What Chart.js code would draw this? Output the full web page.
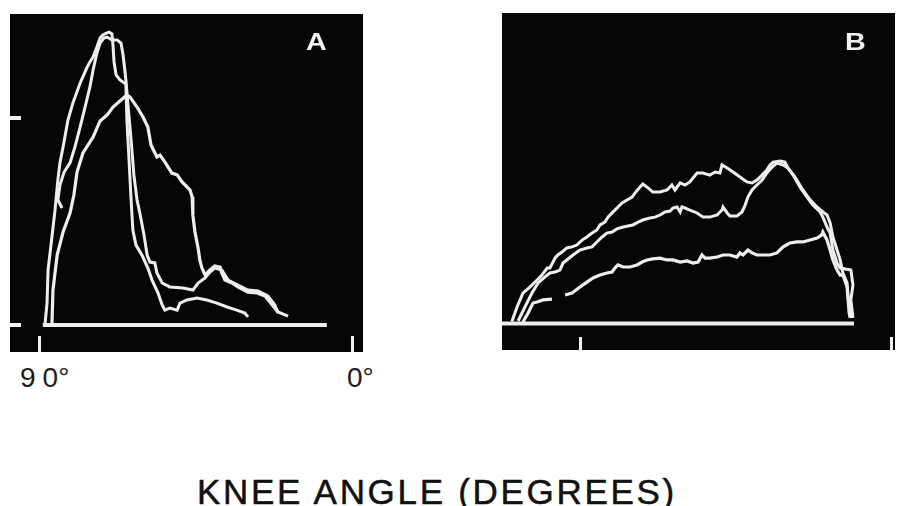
<!DOCTYPE html>
<html>
<head>
<meta charset="utf-8">
<script src="https://cdn.jsdelivr.net/npm/chart.js@4.4.0/dist/chart.umd.min.js"></script>
<style>
  body { margin: 0; width: 903px; height: 506px; background: #fff; position: relative; overflow: hidden;
         font-family: "Liberation Sans", Arial, sans-serif; }
  canvas { position: absolute; background: #060606; }
  #panelA { left: 10px; top: 14px; }
  #panelB { left: 502px; top: 13px; }
  .letter { position: absolute; color: #f2f2f2; font-weight: bold; font-size: 23px; line-height: 23px;
            transform: scaleX(1.25); transform-origin: left top; }
  .deg { position: absolute; color: #1c1c1c; font-size: 28px; line-height: 28px; }
  #title { position: absolute; left: 197px; top: 474px; font-size: 35px; line-height: 35px;
           color: #111; letter-spacing: 2.7px; white-space: nowrap; -webkit-text-stroke: 0.5px #111; }
</style>
</head>
<body>
<canvas id="panelA" width="353" height="338"></canvas>
<canvas id="panelB" width="393" height="337"></canvas>
<div class="letter" style="left:306px; top:31px;">A</div>
<div class="letter" style="left:845px; top:31px;">B</div>
<div class="deg" style="left:20px; top:364px;">9<span style="margin-left:7px">0°</span></div>
<div class="deg" style="left:347px; top:364px;">0°</div>
<div id="title">KNEE ANGLE (DEGREES)</div>
<script>
// knee angle in degrees (x), force in % of the upper tick mark (y)
const kneeTicksA = [90, 0];
const forceTicksA = [0, 100];
const kneeTicksB = [90, 0];

const baselineA = [[88.9, 0], [7.5, 0]];
const baselineB = [[112.9, 0], [11.0, 0]];

const traceA1 = [[88.3,0],[87.7,10.6],[87.4,26.6],[86.3,42.5],[85.4,55.6],[84.6,70.0],[84.0,78.3],[83.1,86.0],
  [81.7,99.0],[80.3,107.2],[78.2,116.9],[76.2,124.6],[75.4,127.1],[74.5,129.5],[73.4,134.3],[72.5,138.6],
  [71.7,140.1],[70.5,141.1],[69.9,141.5],[69.1,140.6],[68.8,135.3],[68.5,127.1],[67.9,120.8],[66.8,118.4],
  [65.1,116.4],[64.8,99.0],[64.2,79.7],[63.6,60.4],[63.1,45.9],[62.2,38.6],[60.5,33.8],[58.8,27.5],
  [57.6,21.7],[55.9,15.5],[54.7,9.7],[53.9,7.2],[52.5,8.2],[50.4,7.2],[49.6,10.6],[47.6,12.1],[44.7,13.0],
  [41.9,12.1],[39.0,10.6],[36.1,8.7],[33.3,7.2],[31.0,5.8],[30.1,3.9]];

const traceA2 = [[83.4,56.5],[84.6,60.4],[84.0,67.6],[82.8,73.9],[81.1,78.3],[79.7,86.0],[78.2,95.7],[76.8,105.3],
  [75.4,115.0],[74.5,123.2],[73.4,131.4],[72.5,136.2],[71.4,138.6],[70.5,139.1],[69.1,137.7],[67.6,137.7],
  [66.5,136.2],[65.9,130.4],[65.4,123.2],[65.1,118.4],[64.5,106.3],[63.6,89.4],[62.8,72.5],[61.9,60.4],
  [61.1,54.1],[59.9,43.5],[59.0,33.8],[58.2,30.4],[56.8,30.0],[56.2,25.1],[54.7,20.3],[52.5,18.4],[48.7,17.9],
  [45.9,16.9],[44.4,20.3],[42.4,22.7],[41.0,25.6],[39.6,27.5],[37.6,26.6],[35.8,21.7],[33.0,19.3],[30.1,16.9],
  [27.2,16.4],[24.4,14.0],[22.4,9.7],[21.5,5.8]];

const traceA3 = [[86.3,0],[86.0,16.9],[84.8,33.8],[83.1,44.9],[81.1,54.1],[80.0,62.8],[79.1,73.9],[77.4,83.1],
  [74.5,90.8],[72.5,98.6],[70.5,101.4],[68.8,105.3],[66.8,108.2],[64.8,111.1],[63.9,110.1],[61.9,105.3],
  [60.2,100.5],[58.8,95.7],[57.9,87.0],[56.2,81.2],[55.3,82.1],[53.9,78.7],[53.0,76.3],[51.9,73.4],[50.4,72.5],
  [49.0,69.1],[47.6,66.7],[46.7,65.2],[46.1,61.8],[45.9,53.1],[45.3,44.9],[44.4,37.2],[43.9,31.4],[43.3,27.5],
  [42.4,24.2],[41.0,26.6],[39.6,28.5],[38.1,28.0],[37.6,25.1],[36.7,21.7],[34.7,20.3],[33.0,18.4],[30.1,15.9],
  [27.5,15.5],[25.2,14.0],[22.9,9.2],[21.5,6.3],[18.6,4.3]];

const traceB1 = [[110.0,1],[108.5,8.0],[106.8,14.7],[104.8,17.6],[102.7,21.0],[101.3,23.4],[99.8,26.8],[99.0,26.8],
  [97.5,31.6],[96.7,33.1],[95.5,34.5],[94.1,36.5],[92.6,37.0],[91.2,37.9],[89.7,40.3],[88.3,41.8],[86.8,43.7],
  [85.4,45.2],[84.5,47.6],[83.1,49.0],[82.2,51.4],[80.7,53.9],[79.3,56.3],[78.1,58.2],[76.7,59.7],[75.2,61.1],
  [74.4,63.0],[72.9,65.9],[72.1,67.4],[70.6,65.5],[69.2,63.5],[67.1,63.5],[65.1,64.5],[63.7,66.9],[62.8,64.5],
  [61.3,67.9],[59.9,66.9],[58.5,68.4],[56.4,72.7],[54.7,72.7],[52.7,71.7],[51.2,73.2],[49.8,72.7],[49.2,76.6],
  [47.7,75.1],[46.0,73.2],[44.0,70.8],[42.0,68.4],[40.5,67.9],[39.1,69.3],[37.6,71.7],[36.2,74.2],[35.3,76.6],
  [34.4,78.0],[32.4,78.5],[31.0,78.0],[30.1,75.1],[28.6,71.7],[26.6,65.9],[24.6,61.1],[22.9,57.2],[20.8,53.9],
  [20.0,51.4],[18.8,46.6],[17.9,43.7],[17.1,35.5],[15.9,29.2],[15.0,26.8],[11.9,25.8],[11.3,18.6],[11.9,11.4],
  [11.3,2.7]];

const traceB2 = [[108.2,1.2],[106.2,8.0],[104.2,14.7],[102.4,19.6],[100.4,22.5],[99.0,24.4],[97.5,24.9],[96.1,25.8],
  [95.2,29.2],[92.3,33.1],[90.3,35.5],[88.3,36.5],[86.8,37.0],[85.4,39.4],[83.9,41.8],[82.5,43.7],[81.0,44.2],
  [79.6,45.7],[77.8,46.6],[76.4,47.1],[75.0,47.6],[73.5,49.0],[72.1,50.0],[70.0,51.0],[68.6,51.4],[67.1,52.4],
  [65.7,53.9],[64.2,54.3],[63.4,55.8],[62.2,56.3],[61.3,53.9],[60.8,56.3],[59.9,55.8],[58.5,54.8],[56.4,53.4],
  [54.7,51.4],[52.7,51.4],[50.6,52.4],[49.2,54.8],[48.9,56.3],[47.7,53.4],[46.9,51.9],[44.9,51.9],[43.4,53.9],
  [42.5,57.2],[41.7,61.1],[40.5,64.5],[39.1,66.9],[37.6,69.3],[36.2,72.7],[34.7,75.6],[33.3,77.5],[31.5,76.6],
  [30.1,75.1],[28.1,70.8],[25.8,64.5],[23.7,59.7],[21.7,56.3],[20.0,53.9],[18.8,52.4],[17.9,48.6],[17.1,41.8],
  [15.9,35.5],[15.0,30.7],[14.2,24.4],[13.0,19.6],[12.7,12.8],[12.1,6.5],[11.6,2.7]];

const traceB3 = [[106.8,0.7],[105.3,5.1],[103.9,9.9],[102.7,10.4],[101.0,11.4],[98.4,11.8],[96.5,null],
  [94.6,13.8],[92.6,14.7],[90.3,17.6],[88.3,20.0],[86.5,22.0],[84.5,23.4],[82.5,24.4],[81.0,24.9],[80.2,26.8],
  [79.3,28.3],[77.8,27.3],[75.8,27.3],[73.8,28.3],[72.3,29.7],[70.9,30.7],[69.2,31.2],[67.1,31.6],[65.1,30.7],
  [63.4,30.7],[61.3,29.7],[59.3,30.2],[57.6,29.2],[56.1,29.7],[55.0,33.1],[54.1,31.6],[52.7,31.6],[50.6,32.1],
  [48.9,33.1],[46.9,33.1],[44.9,32.1],[44.0,34.1],[43.1,33.1],[41.7,35.5],[40.5,34.1],[39.1,33.1],[37.3,33.1],
  [35.3,33.1],[33.3,34.1],[31.5,37.0],[29.5,38.9],[27.5,39.4],[25.8,39.4],[23.7,40.3],[21.7,41.3],[20.3,42.8],
  [20.0,44.2],[18.8,40.3],[17.9,35.5],[17.1,30.7],[15.9,25.8],[15.0,23.4],[14.2,23.4],[13.0,17.6],[12.7,11.4],
  [12.4,5.1],[12.1,2.7]];

function trace(points, width) {
    return {
        data: points.map(p => ({ x: p[0], y: p[1] })),
        borderColor: '#eeeeee',
        borderWidth: width,
        pointRadius: 0,
        tension: 0,
        fill: false,
        spanGaps: false
    };
}

const tickGrid = (len, w) => ({ drawOnChartArea: false, drawTicks: true, tickLength: len, color: '#f2f2f2', lineWidth: w });

let a_Chart = new Chart(document.getElementById('panelA'), {
    type: 'line',
    data: { datasets: [trace(baselineA, 4), trace(traceA1, 3), trace(traceA2, 3), trace(traceA3, 3.2)] },
    options: {
        responsive: false,
        animation: false,
        devicePixelRatio: 1,
        plugins: { legend: { display: false }, tooltip: { enabled: false } },
        scales: {
            x: {
                type: 'linear', reverse: true, min: -2.87, max: 95.16,
                afterBuildTicks: s => { s.ticks = kneeTicksA.map(v => ({ value: v })); },
                ticks: { display: false },
                grid: tickGrid(16, 3),
                border: { display: false }
            },
            y: {
                min: -5.31, max: 150.24,
                afterBuildTicks: s => { s.ticks = forceTicksA.map(v => ({ value: v })); },
                ticks: { display: false },
                grid: tickGrid(11, 4),
                border: { display: false }
            }
        }
    }
});

let b_Chart = new Chart(document.getElementById('panelB'), {
    type: 'line',
    data: { datasets: [trace(baselineB, 4), trace(traceB1, 3), trace(traceB2, 3), trace(traceB3, 3.2)] },
    options: {
        responsive: false,
        animation: false,
        devicePixelRatio: 1,
        plugins: { legend: { display: false }, tooltip: { enabled: false } },
        scales: {
            x: {
                type: 'linear', reverse: true, min: -0.87, max: 112.86,
                afterBuildTicks: s => { s.ticks = kneeTicksB.map(v => ({ value: v })); },
                ticks: { display: false },
                grid: tickGrid(13, 3),
                border: { display: false }
            },
            y: { display: false, min: -6.52, max: 150.0 }
        }
    }
});
</script>
</body>
</html>
